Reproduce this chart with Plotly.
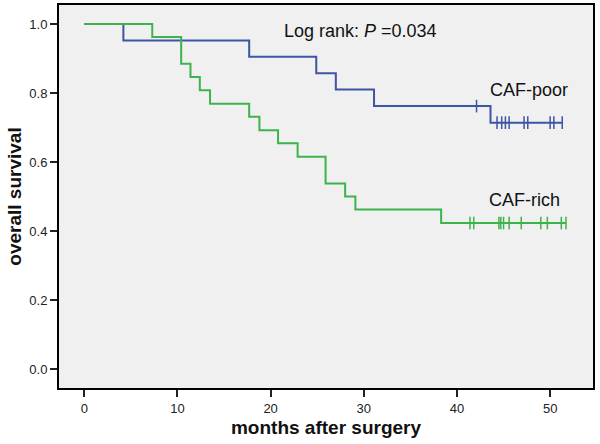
import plotly.graph_objects as go

# ---- data ----
poor_times = [0, 4.2, 17.7, 24.9, 27.0, 31.1, 43.6, 51.3]
poor_surv = [1.0, 0.952, 0.905, 0.857, 0.810, 0.762, 0.714, 0.714]
poor_cens_t = [42.1, 44.3, 44.8, 45.2, 45.6, 47.2, 47.6, 50.0, 50.4, 51.3]
poor_cens_s = [0.762, 0.714, 0.714, 0.714, 0.714, 0.714, 0.714, 0.714, 0.714, 0.714]

rich_times = [0, 7.3, 10.4, 11.4, 12.4, 13.5, 17.7, 18.8, 20.8, 22.9, 25.9, 28.0, 29.1, 38.3, 51.7]
rich_surv = [1.0, 0.962, 0.885, 0.846, 0.808, 0.769, 0.731, 0.692, 0.654, 0.615, 0.538, 0.500, 0.462, 0.423, 0.423]
rich_cens_t = [41.4, 41.8, 44.5, 44.7, 45.0, 45.6, 46.9, 49.0, 49.7, 51.2, 51.7]
rich_cens_s = [0.423] * 11

x_ticks = [0, 10, 20, 30, 40, 50]
y_ticks = [0.0, 0.2, 0.4, 0.6, 0.8, 1.0]

BLUE = "#3C55A5"
GREEN = "#3CB44B"
FONT = "Liberation Sans, Arial, sans-serif"

fig = go.Figure()
fig.add_trace(go.Scatter(x=poor_times, y=poor_surv, mode="lines", line=dict(color=BLUE, width=2, shape="hv"), showlegend=False, hoverinfo="skip"))
fig.add_trace(go.Scatter(x=rich_times, y=rich_surv, mode="lines", line=dict(color=GREEN, width=2, shape="hv"), showlegend=False, hoverinfo="skip"))
fig.add_trace(go.Scatter(x=poor_cens_t, y=poor_cens_s, mode="markers", marker=dict(symbol="line-ns", size=9, line=dict(color=BLUE, width=1.5)), showlegend=False))
fig.add_trace(go.Scatter(x=rich_cens_t, y=rich_cens_s, mode="markers", marker=dict(symbol="line-ns", size=9, line=dict(color=GREEN, width=1.5)), showlegend=False))

fig.add_annotation(x=29.6, y=0.98, text="Log rank: <i>P</i> =0.034", showarrow=False, font=dict(family=FONT, size=18, color="#111"))
fig.add_annotation(x=47.7, y=0.809, text="CAF-poor", showarrow=False, font=dict(family=FONT, size=18, color="#111"))
fig.add_annotation(x=47.3, y=0.49, text="CAF-rich", showarrow=False, font=dict(family=FONT, size=18, color="#111"))

fig.update_layout(
    width=600, height=444,
    margin=dict(l=59, r=7, t=5, b=56),
    paper_bgcolor="white", plot_bgcolor="#F0F0F0",
    font=dict(family=FONT, size=13, color="#222"),
    xaxis=dict(range=[-2.71, 54.6], tickvals=x_ticks, ticks="outside", ticklen=7, tickwidth=1.5, tickcolor="#222",
               showgrid=False, zeroline=False, showline=True, linecolor="black", linewidth=2, mirror=True, automargin=False,
               title=dict(text="<b>months after surgery</b>", font=dict(family=FONT, size=19, color="#111"), standoff=6)),
    yaxis=dict(range=[-0.055, 1.055], tickvals=y_ticks, tickformat=".1f", ticks="outside", ticklen=7, tickwidth=1.5, tickcolor="#222",
               showgrid=False, zeroline=False, showline=True, linecolor="black", linewidth=2, mirror=True, automargin=False,
               title=dict(text="<b>overall survival</b>", font=dict(family=FONT, size=19, color="#111"), standoff=3)),
)

fig.write_html("out.html", config={"displayModeBar": False},
               post_script="document.body.style.margin='0';")
